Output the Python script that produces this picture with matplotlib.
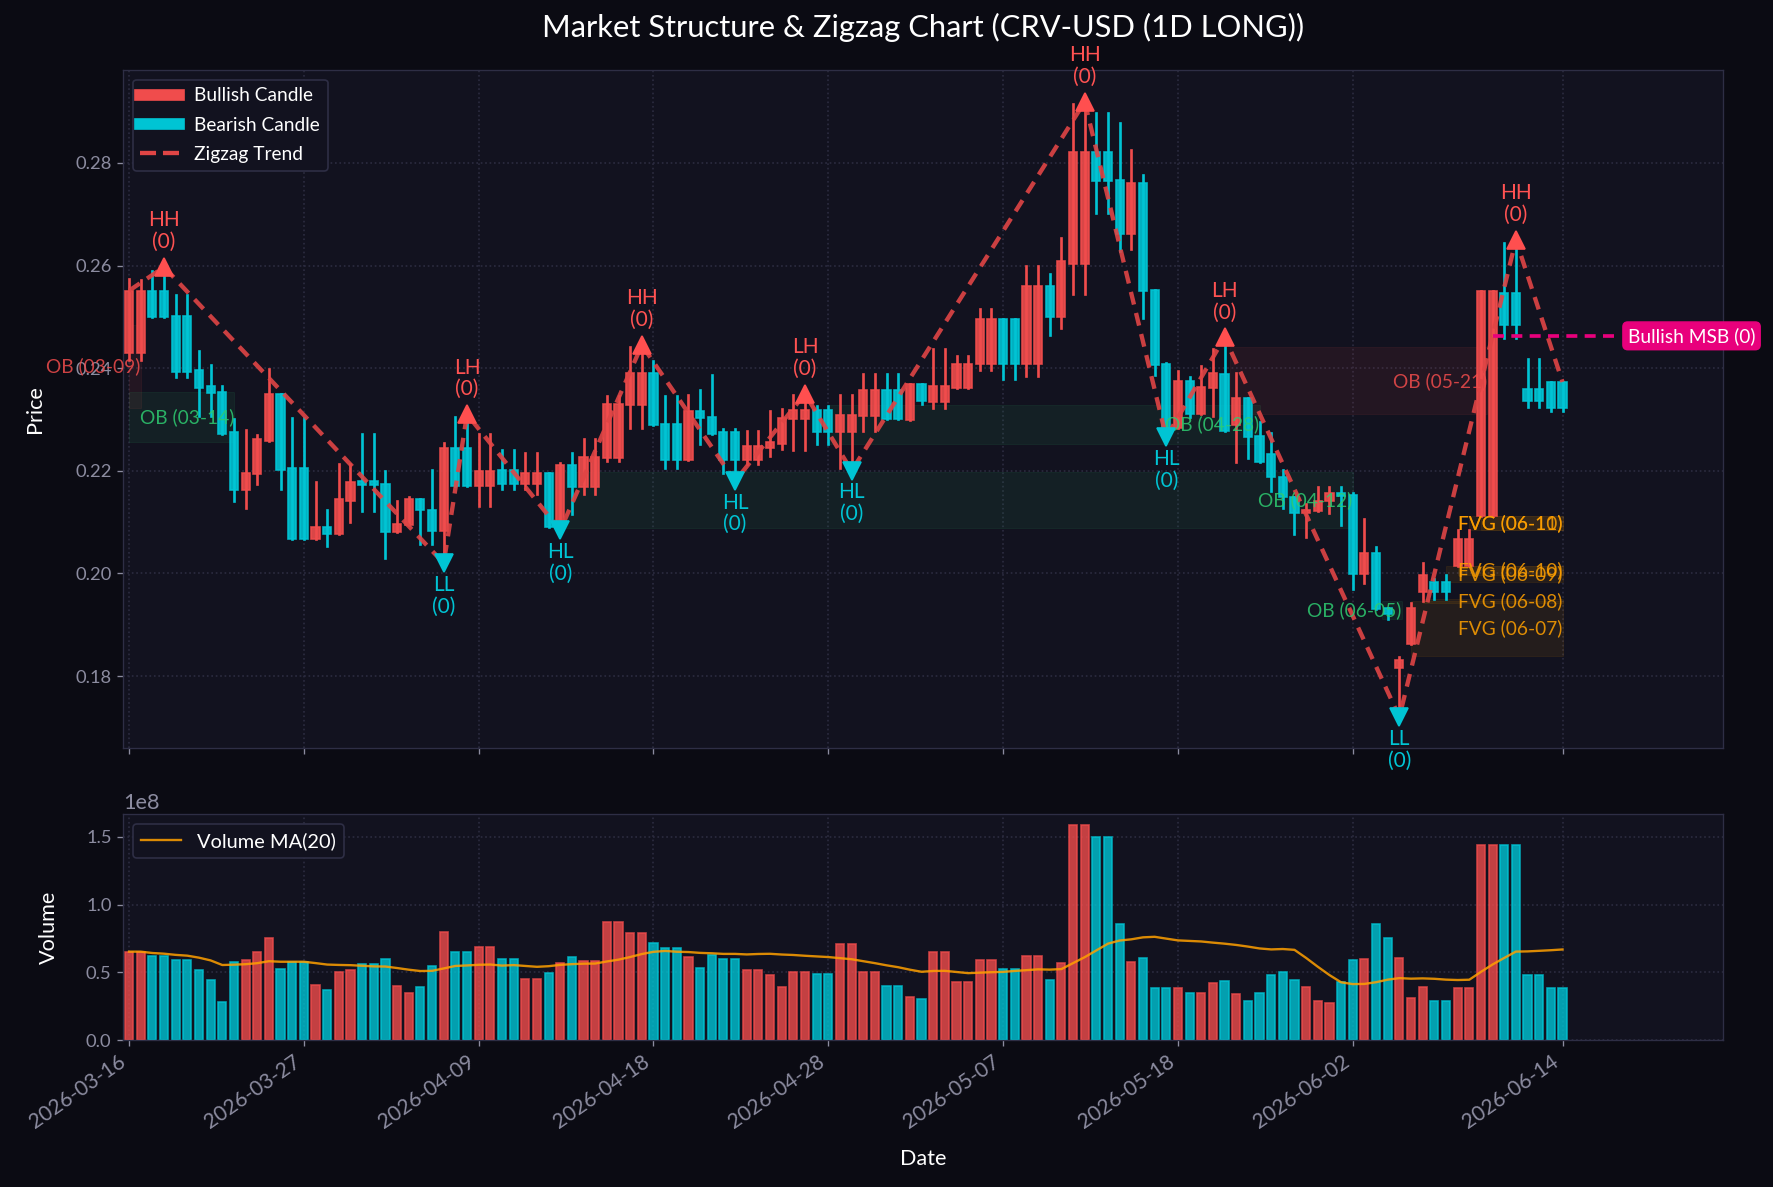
import matplotlib
matplotlib.use("Agg")
import matplotlib.pyplot as plt
from matplotlib.patches import Rectangle
from matplotlib.lines import Line2D
import numpy as np
import pandas as pd

plt.rcParams['font.family'] = ['Lato', 'DejaVu Sans']

# ---- data ----
tick_pos = [0, 15, 30, 45, 60, 75, 90, 105, 123]
tick_labels = ["2026-03-16", "2026-03-27", "2026-04-09", "2026-04-18", "2026-04-28",
               "2026-05-07", "2026-05-18", "2026-06-02", "2026-06-14"]

opens = [0.2429, 0.2429, 0.2551, 0.2551, 0.2502, 0.2502, 0.2396, 0.2365, 0.2354, 0.2276,
         0.2162, 0.2193, 0.2259, 0.2349, 0.2205, 0.2205, 0.2068, 0.2091, 0.2077, 0.2142,
         0.2180, 0.2180, 0.2175, 0.2080, 0.2094, 0.2146, 0.2124, 0.2083, 0.2245, 0.2245,
         0.2170, 0.2170, 0.2201, 0.2201, 0.2174, 0.2174, 0.2195, 0.2090, 0.2212, 0.2168,
         0.2168, 0.2224, 0.2224, 0.2329, 0.2329, 0.2390, 0.2292, 0.2292, 0.2221, 0.2316,
         0.2305, 0.2275, 0.2275, 0.2222, 0.2222, 0.2245, 0.2253, 0.2300, 0.2300, 0.2319,
         0.2319, 0.2275, 0.2275, 0.2307, 0.2307, 0.2357, 0.2357, 0.2299, 0.2370, 0.2335,
         0.2335, 0.2362, 0.2362, 0.2408, 0.2408, 0.2495, 0.2495, 0.2408, 0.2408, 0.2561,
         0.2500, 0.2603, 0.2603, 0.2821, 0.2821, 0.2766, 0.2662, 0.2761, 0.2552, 0.2408,
         0.2284, 0.2375, 0.2310, 0.2361, 0.2389, 0.2290, 0.2341, 0.2267, 0.2233, 0.2188,
         0.2149, 0.2118, 0.2122, 0.2141, 0.2156, 0.2153, 0.1998, 0.2040, 0.1933, 0.1815,
         0.1862, 0.1963, 0.1983, 0.1983, 0.2014, 0.2014, 0.2111, 0.2111, 0.2546, 0.2546,
         0.2360, 0.2360, 0.2373, 0.2373]
highs = [0.2574, 0.2572, 0.2590, 0.2597, 0.2543, 0.2543, 0.2434, 0.2406, 0.2365, 0.2300,
         0.2279, 0.2269, 0.2398, 0.2349, 0.2302, 0.2302, 0.2178, 0.2123, 0.2213, 0.2213,
         0.2272, 0.2272, 0.2200, 0.2141, 0.2148, 0.2146, 0.2201, 0.2255, 0.2305, 0.2310,
         0.2272, 0.2272, 0.2240, 0.2240, 0.2235, 0.2235, 0.2195, 0.2215, 0.2235, 0.2261,
         0.2261, 0.2345, 0.2345, 0.2442, 0.2445, 0.2413, 0.2346, 0.2346, 0.2348, 0.2358,
         0.2386, 0.2282, 0.2282, 0.2277, 0.2277, 0.2316, 0.2321, 0.2348, 0.2350, 0.2326,
         0.2326, 0.2348, 0.2348, 0.2388, 0.2388, 0.2388, 0.2388, 0.2370, 0.2370, 0.2437,
         0.2437, 0.2424, 0.2424, 0.2516, 0.2516, 0.2495, 0.2495, 0.2599, 0.2599, 0.2583,
         0.2653, 0.2915, 0.2919, 0.2897, 0.2897, 0.2878, 0.2826, 0.2777, 0.2552, 0.2411,
         0.2394, 0.2382, 0.2404, 0.2438, 0.2460, 0.2390, 0.2341, 0.2296, 0.2274, 0.2202,
         0.2149, 0.2135, 0.2168, 0.2168, 0.2169, 0.2156, 0.2106, 0.2052, 0.1933, 0.1837,
         0.1943, 0.2020, 0.1990, 0.1997, 0.2084, 0.2084, 0.2550, 0.2550, 0.2644, 0.2650,
         0.2418, 0.2418, 0.2373, 0.2373]
lows = [0.2416, 0.2416, 0.2499, 0.2499, 0.2382, 0.2382, 0.2307, 0.2307, 0.2272, 0.2141,
        0.2128, 0.2175, 0.2259, 0.2165, 0.2068, 0.2068, 0.2068, 0.2054, 0.2077, 0.2100,
        0.2121, 0.2121, 0.2031, 0.2080, 0.2094, 0.2058, 0.2057, 0.2020, 0.2170, 0.2170,
        0.2131, 0.2131, 0.2164, 0.2164, 0.2164, 0.2155, 0.2090, 0.2084, 0.2116, 0.2155,
        0.2155, 0.2219, 0.2219, 0.2284, 0.2284, 0.2290, 0.2206, 0.2206, 0.2221, 0.2253,
        0.2272, 0.2195, 0.2180, 0.2213, 0.2213, 0.2229, 0.2242, 0.2240, 0.2240, 0.2252,
        0.2252, 0.2205, 0.2200, 0.2278, 0.2278, 0.2300, 0.2300, 0.2299, 0.2330, 0.2322,
        0.2322, 0.2362, 0.2362, 0.2396, 0.2396, 0.2378, 0.2378, 0.2385, 0.2385, 0.2465,
        0.2479, 0.2544, 0.2544, 0.2703, 0.2703, 0.2629, 0.2633, 0.2497, 0.2386, 0.2265,
        0.2284, 0.2304, 0.2310, 0.2307, 0.2277, 0.2218, 0.2225, 0.2218, 0.2161, 0.2128,
        0.2077, 0.2071, 0.2121, 0.2118, 0.2094, 0.1970, 0.1981, 0.1930, 0.1912, 0.1720,
        0.1862, 0.1946, 0.1950, 0.1950, 0.2014, 0.2014, 0.2111, 0.2111, 0.2458, 0.2458,
        0.2324, 0.2324, 0.2317, 0.2317]
closes = [0.2551, 0.2551, 0.2499, 0.2499, 0.2393, 0.2393, 0.2362, 0.2352, 0.2272, 0.2162,
          0.2196, 0.2261, 0.2349, 0.2202, 0.2068, 0.2068, 0.2091, 0.2076, 0.2145, 0.2179,
          0.2173, 0.2173, 0.2080, 0.2096, 0.2146, 0.2123, 0.2083, 0.2245, 0.2170, 0.2170,
          0.2200, 0.2200, 0.2174, 0.2174, 0.2195, 0.2195, 0.2090, 0.2212, 0.2168, 0.2226,
          0.2226, 0.2330, 0.2330, 0.2390, 0.2390, 0.2290, 0.2221, 0.2221, 0.2316, 0.2303,
          0.2272, 0.2222, 0.2222, 0.2248, 0.2248, 0.2257, 0.2302, 0.2319, 0.2319, 0.2275,
          0.2275, 0.2308, 0.2308, 0.2357, 0.2357, 0.2300, 0.2300, 0.2370, 0.2336, 0.2365,
          0.2365, 0.2409, 0.2409, 0.2495, 0.2495, 0.2408, 0.2408, 0.2561, 0.2561, 0.2500,
          0.2608, 0.2821, 0.2821, 0.2764, 0.2764, 0.2662, 0.2761, 0.2550, 0.2406, 0.2284,
          0.2375, 0.2310, 0.2363, 0.2391, 0.2277, 0.2342, 0.2265, 0.2218, 0.2188, 0.2148,
          0.2118, 0.2124, 0.2141, 0.2156, 0.2151, 0.1998, 0.2040, 0.1930, 0.1920, 0.1831,
          0.1933, 0.1997, 0.1963, 0.1963, 0.2067, 0.2067, 0.2550, 0.2550, 0.2484, 0.2484,
          0.2336, 0.2336, 0.2323, 0.2323]

# volume in millions
volume_m = [65.3, 65.3, 62.3, 62.3, 59.4, 59.4, 52.0, 44.6, 28.3, 57.9,
            59.4, 65.3, 75.6, 52.7, 57.9, 57.9, 40.9, 37.2, 50.5, 52.0,
            56.4, 56.4, 60.1, 40.1, 35.0, 39.4, 54.9, 80.0, 65.3, 65.3,
            69.0, 69.0, 60.0, 60.0, 45.3, 45.3, 49.8, 56.7, 61.6, 58.6,
            58.6, 87.0, 87.0, 79.0, 79.0, 72.0, 68.0, 68.0, 61.0, 53.0,
            63.0, 60.0, 60.0, 52.0, 52.0, 48.0, 39.0, 50.0, 50.0, 49.0,
            49.0, 71.0, 71.0, 50.0, 50.0, 40.0, 40.0, 31.5, 30.0, 65.0,
            65.0, 43.0, 43.0, 59.0, 59.0, 52.6, 52.6, 62.0, 62.0, 44.7,
            57.0, 159.0, 159.0, 150.0, 150.0, 86.0, 57.7, 60.7, 38.1, 38.1,
            38.8, 35.1, 35.1, 41.8, 43.7, 33.7, 28.5, 34.4, 47.7, 50.6,
            44.7, 39.3, 29.2, 27.0, 43.0, 59.5, 60.2, 86.0, 75.7, 60.9,
            30.7, 39.3, 29.2, 29.2, 38.1, 38.1, 144.2, 144.2, 144.2, 144.2,
            47.7, 47.7, 38.1, 38.1]

# zigzag pivots
zz_idx = [0, 3, 27, 29, 37, 44, 52, 58, 62, 82, 89, 94, 109, 119, 123]
zz_price = [0.2551, 0.2597, 0.2020, 0.2310, 0.2084, 0.2445, 0.2180, 0.2350, 0.2200,
            0.2919, 0.2265, 0.2460, 0.1720, 0.2650, 0.2373]
zz_labels = ["", "HH", "LL", "LH", "HL", "HH", "HL", "LH", "HL", "HH", "HL", "LH", "LL", "HH", ""]

# order blocks: x0, x1, y0, y1, kind, label
ob_zones = [
    (0, 1, 0.2322, 0.2484, "bear", "OB (03-09)"),
    (0, 9, 0.2256, 0.2353, "bull", "OB (03-14)"),
    (36.5, 105, 0.2088, 0.2197, "bull", "OB (04-12)"),
    (60, 97, 0.2253, 0.2328, "bull", "OB (04-28)"),
    (94.5, 116.5, 0.2310, 0.2441, "bear", "OB (05-21)"),
    (107.5, 109.2, 0.1912, 0.1946, "bull", "OB (06-05)"),
]
fvg_zones = [
    (110, 123, 0.1839, 0.1946, "FVG (06-07)"),
    (111, 123, 0.1943, 0.1950, "FVG (06-08)"),
    (113, 123, 0.1983, 0.2014, "FVG (06-09)"),
    (114, 123, 0.1997, 0.2014, "FVG (06-10)"),
    (115, 123, 0.2084, 0.2111, "FVG (06-10)"),
    (116, 123, 0.2084, 0.2111, "FVG (06-11)"),
]
msb_x = [117, 128]
msb_price = 0.2463

# ---- style ----
BG = "#0b0b13"
AX_BG = "#12121f"
RED = "#f04c4c"
CYAN = "#00c4d4"
GREEN = "#2ecc71"
ORANGE = "#ffa000"
PINK = "#e8007c"
GRID = "#2c2c40"
SPINE = "#2e2e45"
TICK = "#8c8ca0"


def style_ax(ax):
    ax.set_facecolor(AX_BG)
    for s in ax.spines.values():
        s.set_color(SPINE)
    ax.tick_params(colors=TICK, labelsize=11)
    ax.grid(True, color=GRID, linestyle=":", linewidth=1)
    ax.set_axisbelow(True)


def draw_candles(ax):
    for i in range(len(opens)):
        o, h, l, c = opens[i], highs[i], lows[i], closes[i]
        col = RED if c >= o else CYAN
        ax.plot([i, i], [l, h], color=col, linewidth=1.6, zorder=3)
        bottom = min(o, c)
        height = max(abs(c - o), 0.0004)
        ax.add_patch(Rectangle((i - 0.35, bottom), 0.7, height, facecolor=col,
                               edgecolor=col, alpha=0.9, linewidth=1, zorder=4))


def draw_zones(ax):
    for x0, x1, y0, y1, kind, label in ob_zones:
        col = GREEN if kind == "bull" else RED
        ax.add_patch(Rectangle((x0, y0), x1 - x0, y1 - y0, facecolor=col, alpha=0.08,
                               edgecolor=col, linewidth=0.6, zorder=1))
        ax.text(x1, (y0 + y1) / 2, label, color=col, fontsize=11.5, ha="right",
                va="center", alpha=0.85, zorder=6)
    for x0, x1, y0, y1, label in fvg_zones:
        ax.add_patch(Rectangle((x0, y0), x1 - x0, y1 - y0, facecolor=ORANGE, alpha=0.08,
                               edgecolor=ORANGE, linewidth=0.6, zorder=1))
        ax.text(x1, (y0 + y1) / 2, label, color=ORANGE, fontsize=11.5, ha="right",
                va="center", alpha=0.85, zorder=6)


def draw_zigzag(ax):
    ax.plot(zz_idx, zz_price, color="#e04545", linestyle="--", linewidth=2.6,
            alpha=0.9, zorder=5, dashes=(3, 2))
    for x, y, lab in zip(zz_idx, zz_price, zz_labels):
        if not lab:
            continue
        if lab in ("HH", "LH"):
            ax.plot(x, y, marker="^", color="#ff4f4f", markersize=11, zorder=7)
            ax.annotate(lab + "\n(0)", (x, y), xytext=(0, 9), textcoords="offset points",
                        ha="center", va="bottom", color="#ff5252", fontsize=12.5,
                        linespacing=1.1, zorder=8)
        else:
            ax.plot(x, y, marker="v", color=CYAN, markersize=11, zorder=7)
            ax.annotate(lab + "\n(0)", (x, y), xytext=(0, -7), textcoords="offset points",
                        ha="center", va="top", color=CYAN, fontsize=12.5,
                        linespacing=1.1, zorder=8)


fig = plt.figure(figsize=(1773 / 120, 1187 / 120), dpi=120, facecolor=BG)
ax = fig.add_axes([0.0695, 0.3695, 0.9025, 0.5715])
axv = fig.add_axes([0.0695, 0.1238, 0.9025, 0.1904], sharex=ax)
style_ax(ax)
style_ax(axv)

draw_zones(ax)
draw_candles(ax)
draw_zigzag(ax)

# market structure break
ax.plot(msb_x, [msb_price, msb_price], color=PINK, linestyle="--", linewidth=2.2,
        dashes=(3, 2), zorder=6)
ax.text(msb_x[1] + 0.6, msb_price, "Bullish MSB (0)", color="white", fontsize=11.5,
        ha="left", va="center", zorder=9,
        bbox=dict(boxstyle="round,pad=0.25", facecolor=PINK, edgecolor=PINK))

ax.set_xlim(-0.5, 136.8)
ax.set_ylim(0.1659, 0.2981)
ax.set_ylabel("Price", color="white", fontsize=13, labelpad=18)
ax.set_title("Market Structure & Zigzag Chart (CRV-USD (1D LONG))", color="white",
             fontsize=18.5, pad=20)
plt.setp(ax.get_xticklabels(), visible=False)

handles = [Line2D([0], [0], color=RED, linewidth=7),
           Line2D([0], [0], color=CYAN, linewidth=7),
           Line2D([0], [0], color="#e04545", linewidth=2.6, linestyle="--")]
ax.legend(handles, ["Bullish Candle", "Bearish Candle", "Zigzag Trend"],
          loc="upper left", fontsize=11.5, facecolor=AX_BG, edgecolor=SPINE,
          labelcolor="white", framealpha=1, labelspacing=0.65)

# volume
volumes = np.array(volume_m) * 1e6
x = np.arange(len(volumes))
vcols = [RED if closes[i] >= opens[i] else CYAN for i in range(len(volumes))]
axv.bar(x, volumes, width=0.7, color=vcols, alpha=0.8, edgecolor=vcols, linewidth=1)
vol_ma = pd.Series(volumes).rolling(20, min_periods=1).mean()
axv.plot(x, vol_ma, color=ORANGE, linewidth=1.4, alpha=0.85, label="Volume MA(20)")
axv.set_ylim(0, volumes.max() * 1.05)
axv.set_ylabel("Volume", color="white", fontsize=13, labelpad=16)
axv.set_xlabel("Date", color="white", fontsize=13, labelpad=10)
axv.yaxis.get_offset_text().set_color(TICK)
axv.yaxis.get_offset_text().set_fontsize(13)
axv.legend(loc="upper left", fontsize=12, facecolor=AX_BG, edgecolor=SPINE,
           labelcolor="white", framealpha=1)

axv.set_xticks(tick_pos)
axv.set_xticklabels(tick_labels, rotation=35, ha="right", fontsize=12.5,
                    rotation_mode="default")

fig.savefig("out.png", dpi=120, facecolor=BG)
